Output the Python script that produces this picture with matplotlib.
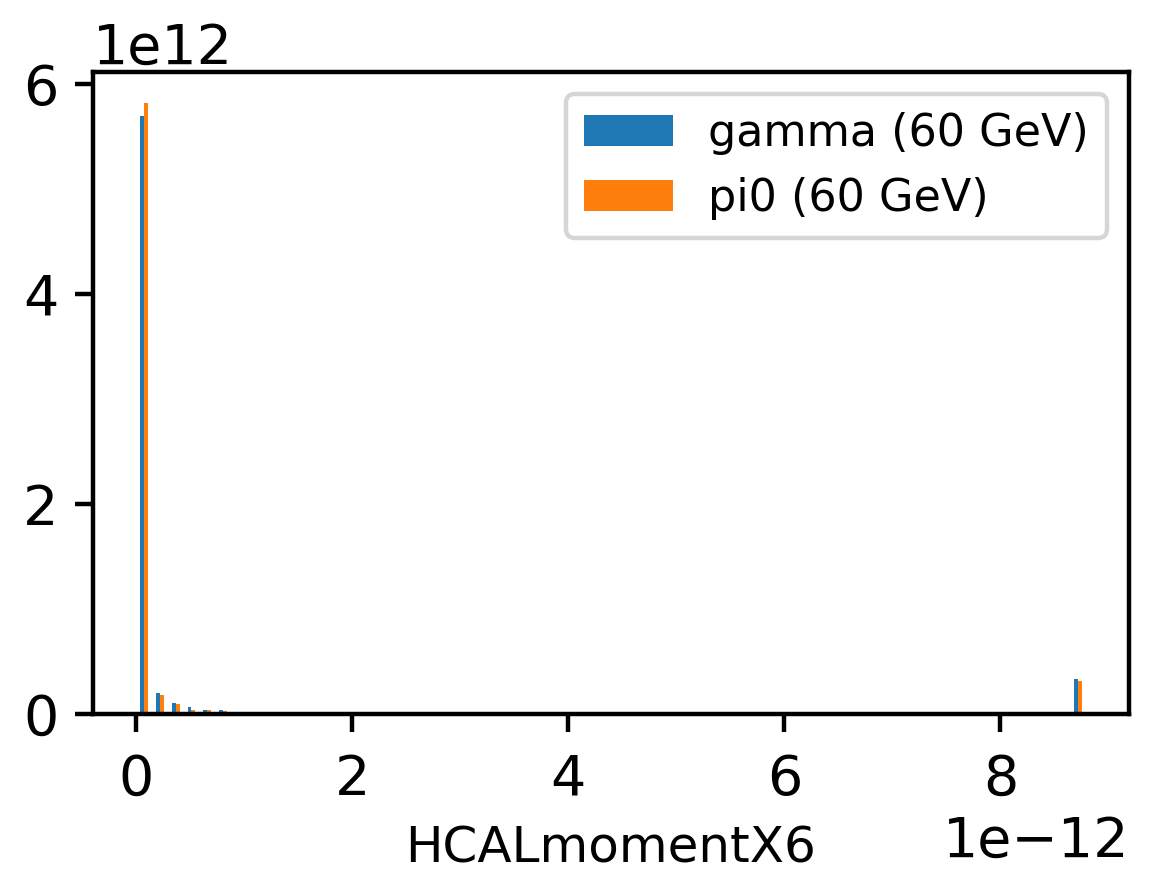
import numpy as np
import matplotlib
matplotlib.use("Agg")
import matplotlib.pyplot as plt

# Histogram binning (60 equal bins)
x_min = 0.0
x_max = 8.79e-12
n_bins = 60

# Non-empty bins: index -> normalised bin height
bin_index = [0, 1, 2, 3, 4, 5, 6, 7, 59]
gamma_heights = [5.69e12, 0.20e12, 0.105e12, 0.066e12, 0.038e12, 0.038e12, 0.019e12, 0.019e12, 0.33e12]
pi0_heights = [5.82e12, 0.18e12, 0.095e12, 0.038e12, 0.038e12, 0.028e12, 0.005e12, 0.002e12, 0.31e12]

labels = ["gamma (60 GeV)", "pi0 (60 GeV)"]

edges = np.linspace(x_min, x_max, n_bins + 1)
centers = 0.5 * (edges[:-1] + edges[1:])
sel = centers[bin_index]

plt.rcParams["font.size"] = 20
plt.rcParams["axes.linewidth"] = 1.6
plt.rcParams["xtick.major.width"] = 1.6
plt.rcParams["ytick.major.width"] = 1.6
plt.rcParams["xtick.major.size"] = 6.5
plt.rcParams["ytick.major.size"] = 6.5
plt.rcParams["xtick.major.pad"] = 7.5
plt.rcParams["ytick.major.pad"] = 6
plt.rcParams["legend.fontsize"] = 16
plt.rcParams["axes.labelsize"] = 18

fig = plt.figure(figsize=(5.795, 4.385), dpi=200)
ax = fig.add_axes([0.0802, 0.1859, 0.9741 - 0.0802, 0.9179 - 0.1859])

ax.hist([sel, sel], bins=edges, weights=[gamma_heights, pi0_heights],
        rwidth=0.5, label=labels, color=["#1f77b4", "#ff7f0e"])

ax.set_xlabel("HCALmomentX6", labelpad=6.5)
leg = ax.legend(loc="upper right")
leg.get_frame().set_linewidth(1.6)

fig.savefig("out.png", dpi=200)
